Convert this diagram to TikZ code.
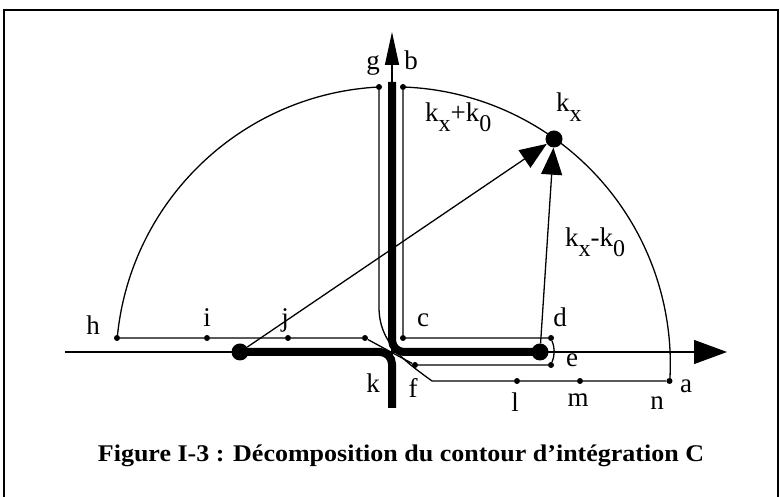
\documentclass[tikz,border=0pt]{standalone}
\usepackage{fontspec}
\setmainfont{Liberation Serif}
\usetikzlibrary{positioning,arrows.meta}

\newcommand{\ix}[1]{\raisebox{-0.36em}{\fontsize{24}{24}\selectfont #1}}

\begin{document}
\begin{tikzpicture}[
  x=1pt,y=1pt,
  font=\fontsize{27}{27}\selectfont,
  pt/.style={circle,fill,inner sep=0pt,minimum size=6pt},
  bigpt/.style={circle,fill,inner sep=0pt,minimum size=17pt},
  lbl/.style={inner sep=0pt,anchor=base},
  klbl/.style={inner sep=0pt,anchor=base west},
  contour/.style={line width=1.3pt},
  thick path/.style={line width=8pt,rounded corners=12pt},
  axis/.style={line width=1.3pt,-{Triangle[length=33pt,width=24pt]}},
  vaxis/.style={line width=1.3pt,-{Triangle[length=33pt,width=14pt]}},
  vec/.style={line width=1.3pt,-{Triangle[length=27pt,width=21pt]}}
]
\useasboundingbox (0,0) rectangle (780,497);
\draw[line width=1.8pt] (4,0) |- (778,487) -- (778,0);

% axes
\coordinate (x0) at (65,145);
\coordinate (x1) at (727,145);
\coordinate (vbot) at (392,89);
\coordinate (vtop) at (392,415);
\coordinate (ytip) at (392,465);
\coordinate (cross) at (392,145);
\draw[axis] (x0) -- (x1);
\draw[vaxis] (vbot) -- (ytip);

% points of the contour
\node[pt] (h) at (117,159) {};
\node[pt] (i) at (207,159) {};
\node[pt] (j) at (288,159) {};
\node[pt] (jk) at (365,159) {};
\node[pt] (c) at (403,159) {};
\node[pt] (d) at (551,159) {};
\node[pt] (e) at (551,132) {};
\node[pt] (f) at (415,132) {};
\node[pt] (l) at (517,116) {};
\node[pt] (m) at (580,116) {};
\node[pt] (a) at (669.5,116) {};
\node[pt] (g) at (379,410) {};
\node[pt] (b) at (403,410) {};
\coordinate (gk) at (379,190);
\coordinate (kf) at (432,116);

\node[bigpt] (kL) at (240,145) {};
\node[bigpt] (kR) at (540,145) {};
\node[bigpt] (kX) at (554,358) {};

% thick branch cuts
\draw[thick path] (vtop) -- (cross) -- (kR.center);
\draw[thick path] (kL.center) -- (cross) -- (vbot);

% contour C
\draw[contour] (b.center) arc[start angle=88,end angle=-3.5,radius=277];
\draw[contour] (g.center) arc[start angle=92.9,end angle=174.6,radius=277];
\draw[contour] (b) -- (c) -- (d) to[out=-70,in=70] (e) -- (f) -- (jk) -- (j) -- (i) -- (h);
\draw[contour] (g) -- (gk) to[out=-90,in=144] (kf) -- (l) -- (m) -- (a);

\draw[vec] (kL) -- (kX);
\draw[vec] (kR) -- (kX);

% labels
\node[lbl] at (93,162) {h};
\node[lbl] at (207,170) {i};
\node[lbl] at (285,170) {j};
\node[lbl] at (423,170) {c};
\node[lbl] at (560,170) {d};
\node[lbl] at (572,130) {e};
\node[lbl] at (373,104) {k};
\node[lbl] at (413,99) {f};
\node[lbl] at (515,85) {l};
\node[lbl] at (578,90) {m};
\node[lbl] at (657,87) {n};
\node[lbl] at (686,104) {a};
\node[lbl] at (373,427) {g};
\node[lbl] at (411,427) {b};
\node[klbl] at (556,385) {k\ix{x}};
\node[klbl] at (425,375) {k\ix{x}+k\ix{0}};
\node[klbl] at (565,250) {k\ix{x}-k\ix{0}};

\node[inner sep=0pt,anchor=base,font=\bfseries\fontsize{26}{26}\selectfont] (cap) at (401,35)
  {\scalebox{1}[0.92]{Figure I-3 : Décomposition du contour d’intégration C}};
\end{tikzpicture}
\end{document}
